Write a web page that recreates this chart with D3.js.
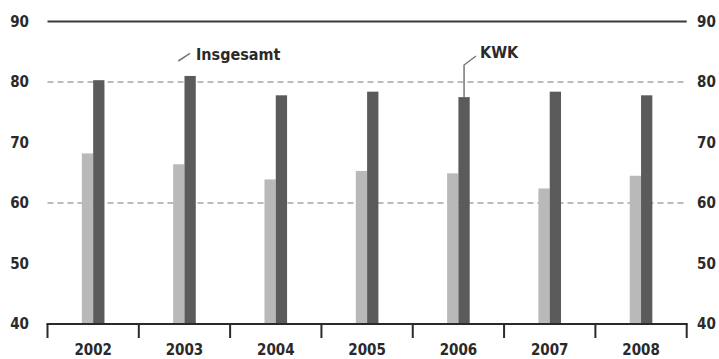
<!DOCTYPE html>
<html><head><meta charset="utf-8">
<script src="https://cdn.jsdelivr.net/npm/d3@7"></script>
<style>
html,body{margin:0;padding:0;background:#fff;}
text{font-family:"DejaVu Sans Condensed","DejaVu Sans",sans-serif;fill:#2a2a2a;font-weight:bold;}
</style></head>
<body><svg id="c" width="719" height="359"></svg>
<script>
const years = ["2002","2003","2004","2005","2006","2007","2008"];
const seriesNames = ["Insgesamt","KWK"];
const insgesamt = [68.2, 66.4, 63.9, 65.3, 64.9, 62.4, 64.5];
const kwk = [80.3, 81.0, 77.8, 78.4, 77.5, 78.4, 77.8];
const yTicks = [40, 50, 60, 70, 80, 90];
const dashedTicks = [60, 80];
const colors = {Insgesamt: "#b9b9b9", KWK: "#5b5b5b"};

const svg = d3.select("#c");
const pLeft = 47.5, pRight = 686.7, pTop = 21.5, pBottom = 324;
const x = d3.scaleBand().domain(years).range([pLeft, pRight]).padding(0);
const x1 = d3.scaleBand().domain(seriesNames).range([0, x.bandwidth()]).paddingInner(0).paddingOuter(3.04);
const y = d3.scaleLinear().domain([40, 90]).range([pBottom, pTop]);
const FONT = "'DejaVu Sans Condensed','DejaVu Sans',sans-serif";

// dashed grid
svg.selectAll("line.grid").data(dashedTicks).enter().append("line")
  .attr("x1", pLeft).attr("x2", pRight)
  .attr("y1", d => y(d)).attr("y2", d => y(d))
  .attr("stroke", "#7a7a7a").attr("stroke-width", 1.2).attr("stroke-dasharray", "6,4");

// top line
svg.append("line").attr("x1", pLeft).attr("x2", pRight).attr("y1", y(90)).attr("y2", y(90))
  .attr("stroke", "#3a3a3a").attr("stroke-width", 2);

// bars
const data = years.map((yr, i) => ({year: yr, Insgesamt: insgesamt[i], KWK: kwk[i]}));
const g = svg.selectAll("g.yr").data(data).enter().append("g")
  .attr("transform", d => `translate(${x(d.year)},0)`);
g.selectAll("rect").data(d => seriesNames.map(k => ({k, v: d[k]}))).enter().append("rect")
  .attr("x", d => x1(d.k)).attr("width", x1.bandwidth())
  .attr("y", d => y(d.v)).attr("height", d => y(40) - y(d.v))
  .attr("fill", d => colors[d.k]);

// bottom axis
const xAxis = d3.axisBottom(x).tickSize(0).tickFormat(d => d);
const ax = svg.append("g").attr("transform", `translate(0,${pBottom})`).call(xAxis);
ax.select(".domain").remove();
ax.selectAll("text").attr("dy", null).attr("y", 31).style("font-size", "15px")
  .style("font-family", FONT).style("font-weight", "bold").attr("fill", "#2a2a2a");
svg.append("line").attr("x1", pLeft - 1).attr("x2", pRight + 1).attr("y1", pBottom).attr("y2", pBottom)
  .attr("stroke", "#2a2a2a").attr("stroke-width", 2);
const edges = years.map(d => x(d)).concat([pRight]);
svg.selectAll("line.edge").data(edges).enter().append("line")
  .attr("x1", d => d).attr("x2", d => d).attr("y1", pBottom).attr("y2", pBottom + 14)
  .attr("stroke", "#2a2a2a").attr("stroke-width", 2);

// y labels
const yAxisL = d3.axisLeft(y).tickValues(yTicks).tickSize(0);
const gl = svg.append("g").attr("transform", `translate(29,0)`).call(yAxisL);
gl.select(".domain").remove();
gl.selectAll("text").attr("x", 0).style("font-size", "15px").attr("text-anchor", "end")
  .style("font-family", FONT).style("font-weight", "bold").attr("fill", "#2a2a2a");
const yAxisR = d3.axisRight(y).tickValues(yTicks).tickSize(0);
const gr = svg.append("g").attr("transform", `translate(697,0)`).call(yAxisR);
gr.select(".domain").remove();
gr.selectAll("text").attr("x", 0).style("font-size", "15px").attr("text-anchor", "start")
  .style("font-family", FONT).style("font-weight", "bold").attr("fill", "#2a2a2a");

// annotations
const ann = svg.append("g");
ann.append("line").attr("x1", 178.3).attr("y1", 61).attr("x2", 190).attr("y2", 53.3)
  .attr("stroke", "#777").attr("stroke-width", 1.5);
ann.append("text").attr("x", 196).attr("y", 60).style("font-size", "16px").text("Insgesamt");
const kx = x("2006") + x1("KWK") + x1.bandwidth() / 2;
ann.append("path").attr("d", `M476,56 L${kx},65 L${kx},${y(kwk[4])}`)
  .attr("fill", "none").attr("stroke", "#777").attr("stroke-width", 1.5);
ann.append("text").attr("x", 480).attr("y", 58).style("font-size", "16px").text("KWK");
</script></body></html>
